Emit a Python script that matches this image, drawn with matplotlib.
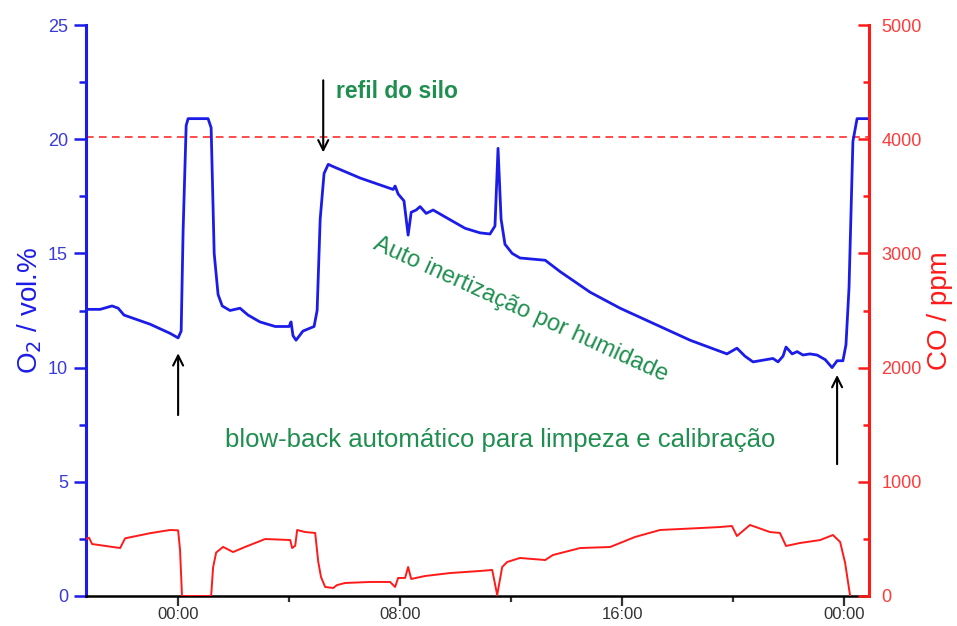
import numpy as np
import matplotlib
matplotlib.use('Agg')
import matplotlib.pyplot as plt
from matplotlib.ticker import FuncFormatter, MultipleLocator

plt.rcParams['font.family'] = ['Liberation Sans', 'DejaVu Sans']

# O2 reading (vol.%) over time, hours relative to midnight
o2_hours = [-3.32, -2.81, -2.38, -2.16, -1.95, -1.01, -0.29, 0.0, 0.11, 0.18,
            0.29, 0.36, 1.08, 1.19, 1.30, 1.44, 1.59, 1.87, 2.23, 2.52,
            2.95, 3.50, 4.0, 4.07, 4.14, 4.25, 4.50, 4.90, 5.01, 5.12,
            5.26, 5.41, 5.59, 6.56, 7.75, 7.82, 7.93, 8.14, 8.29, 8.40,
            8.58, 8.72, 8.94, 9.19, 9.62, 10.34, 10.88, 11.24, 11.42, 11.53,
            11.64, 11.78, 12.04, 12.32, 13.23, 13.77, 14.85, 15.93, 17.01, 18.45,
            19.78, 20.14, 20.43, 20.72, 21.44, 21.62, 21.80, 21.91, 22.13, 22.31,
            22.52, 22.77, 23.03, 23.32, 23.57, 23.75, 23.96, 24.07, 24.18, 24.32,
            24.47, 24.9]
o2_values = [12.55, 12.55, 12.7, 12.6, 12.3, 11.9, 11.5, 11.3, 11.6, 16.0,
             20.6, 20.9, 20.9, 20.5, 15.0, 13.2, 12.7, 12.5, 12.6, 12.3,
             12.0, 11.8, 11.8, 12.0, 11.4, 11.2, 11.6, 11.8, 12.5, 16.5,
             18.5, 18.9, 18.8, 18.3, 17.8, 17.95, 17.6, 17.3, 15.8, 16.8,
             16.9, 17.05, 16.75, 16.9, 16.6, 16.1, 15.9, 15.85, 16.2, 19.6,
             16.5, 15.4, 15.0, 14.8, 14.7, 14.2, 13.3, 12.6, 12.0, 11.2,
             10.6, 10.85, 10.5, 10.25, 10.4, 10.25, 10.5, 10.9, 10.6, 10.7,
             10.55, 10.6, 10.55, 10.35, 10.0, 10.3, 10.3, 11.0, 13.5, 19.9,
             20.9, 20.9]

# CO reading (ppm)
co_hours = [-3.32, -3.21, -3.10, -2.09, -1.91, -1.01, -0.29, 0.0, 0.07, 0.14,
            1.19, 1.26, 1.37, 1.62, 1.98, 2.41, 3.14, 4.04, 4.11, 4.22,
            4.29, 4.58, 4.94, 5.05, 5.15, 5.30, 5.59, 5.73, 6.02, 6.92,
            7.64, 7.82, 7.93, 8.18, 8.29, 8.40, 8.90, 9.80, 10.88, 11.32,
            11.50, 11.68, 11.86, 12.32, 13.23, 13.51, 14.49, 15.57, 16.47, 17.37,
            18.81, 19.53, 19.96, 20.14, 20.61, 21.33, 21.69, 21.91, 22.41, 23.14,
            23.60, 23.86, 24.04, 24.22]
co_values = [500, 510, 455, 420, 505, 550, 578, 575, 400, 0,
             0, 250, 380, 430, 385, 429, 499, 490, 420, 440,
             578, 560, 552, 300, 166, 79, 70, 96, 114, 123,
             123, 79, 158, 158, 254, 149, 175, 201, 219, 228,
             9, 254, 298, 333, 315, 359, 420, 429, 517, 578,
             595, 604, 613, 525, 622, 560, 552, 438, 464, 490,
             534, 473, 289, 0]

o2_limit = 20.1

blue = '#1c1ce8'
red = '#ff1a1a'
green = '#1f8f4f'

fig = plt.figure(figsize=(9.57, 6.26), dpi=100)
ax = fig.add_axes([86 / 957, 30 / 626, (869 - 86) / 957, (596 - 25) / 626])
ax2 = ax.twinx()

ax.plot(o2_hours, o2_values, color=blue, lw=2.0, zorder=3)
ax2.plot(co_hours, co_values, color=red, lw=1.4)
ax.axhline(o2_limit, color=red, lw=1.1, ls=(0, (5, 3.5)))

ax.set_xlim(-3.32, 24.9)
ax.set_ylim(0, 25)
ax2.set_ylim(0, 5000)

# time axis
ax.xaxis.set_major_locator(MultipleLocator(8))
ax.xaxis.set_minor_locator(MultipleLocator(4))
ax.xaxis.set_major_formatter(FuncFormatter(lambda h, p: f"{int(round(h)) % 24:02d}:00"))
ax.tick_params(axis='x', which='major', length=7, width=1.6, colors='#333333',
               labelsize=12, pad=1)
ax.tick_params(axis='x', which='minor', length=4, width=1.6, color='#333333')

# O2 axis
ax.yaxis.set_major_locator(MultipleLocator(5))
ax.yaxis.set_minor_locator(MultipleLocator(2.5))
ax.tick_params(axis='y', which='major', length=9, width=1.8, colors=blue,
               labelsize=13, labelcolor='#3a3ad8', pad=4)
ax.tick_params(axis='y', which='minor', length=5, width=1.8, color=blue)
ax.set_ylabel('O$_2$ / vol.%', color=blue, fontsize=20, labelpad=3)

# CO axis
ax2.yaxis.set_major_locator(MultipleLocator(1000))
ax2.yaxis.set_minor_locator(MultipleLocator(500))
ax2.tick_params(axis='y', which='major', direction='in', length=8, width=1.8,
                colors=red, labelsize=13, labelcolor='#ff3a3a', pad=9)
ax2.tick_params(axis='y', which='minor', direction='in', length=4, width=1.8, color=red)
ax2.set_ylabel('CO / ppm', color=red, fontsize=20, labelpad=4)

for a in (ax, ax2):
    a.spines['top'].set_visible(False)
ax.spines['right'].set_visible(False)
ax2.spines['left'].set_visible(False)
ax2.spines['bottom'].set_visible(False)
ax.spines['left'].set_color(blue)
ax.spines['left'].set_linewidth(2.2)
ax2.spines['right'].set_color(red)
ax2.spines['right'].set_linewidth(2.2)
ax.spines['bottom'].set_color('black')
ax.spines['bottom'].set_linewidth(1.8)

# event arrows
arrow = dict(arrowstyle='->', color='black', lw=1.5, mutation_scale=18)
ax.annotate('', xy=(0.0, 10.75), xytext=(0.0, 7.8), arrowprops=arrow)
ax.annotate('', xy=(5.23, 19.3), xytext=(5.23, 22.7), arrowprops=arrow)
ax.annotate('', xy=(23.75, 9.8), xytext=(23.75, 5.65), arrowprops=arrow)

ax.text(5.7, 22.1, 'refil do silo', color=green, fontsize=16.5, fontweight='bold',
        ha='left', va='center')
ax.text(12.35, 12.55, 'Auto inertização por humidade', color=green, fontsize=17,
        rotation=-24.5, rotation_mode='anchor', ha='center', va='center')
ax.text(11.6, 6.85, 'blow-back automático para limpeza e calibração', color=green,
        fontsize=18.5, ha='center', va='center')

fig.savefig('out.png', dpi=100)
